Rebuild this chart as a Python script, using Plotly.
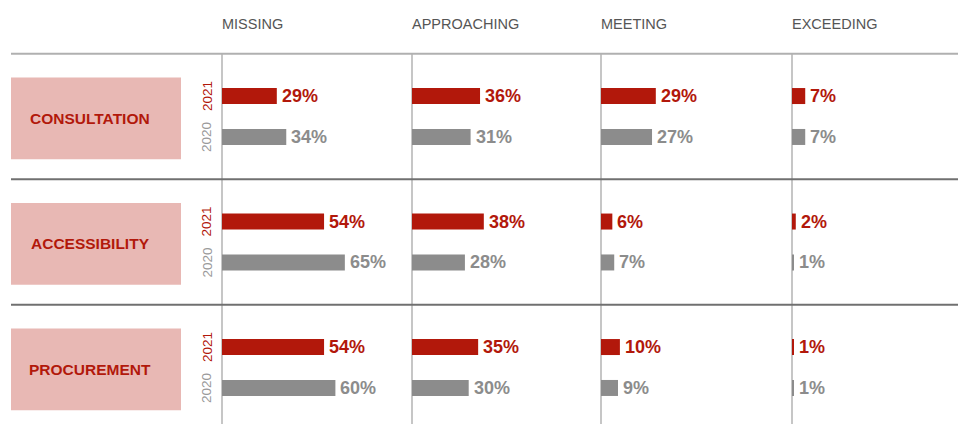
import plotly.graph_objects as go

# ---- data ----
categories = ["CONSULTATION", "ACCESSIBILITY", "PROCUREMENT"]
levels = ["MISSING", "APPROACHING", "MEETING", "EXCEEDING"]
years = ["2021", "2020"]
# values per level, listed in category order
missing_2021 = [29, 54, 54]
missing_2020 = [34, 65, 60]
approaching_2021 = [36, 38, 35]
approaching_2020 = [31, 28, 30]
meeting_2021 = [29, 6, 10]
meeting_2020 = [27, 7, 9]
exceeding_2021 = [7, 2, 1]
exceeding_2020 = [7, 1, 1]

values = {
    "2021": [missing_2021, approaching_2021, meeting_2021, exceeding_2021],
    "2020": [missing_2020, approaching_2020, meeting_2020, exceeding_2020],
}

# ---- styling / layout ----
W, H = 958, 424
RED = "#b2180b"
GRAY = "#8c8c8c"
PINK = "#e8b8b4"
FONT = "Liberation Sans, Arial, sans-serif"
PX_PER_PCT = 1.89
col_edges = [222, 412, 601, 792, 958]
ROW_PX = 125.5
ROW0_PX = 116.5
YEAR_OFF = 0.163
BAR_W = 16 / ROW_PX

y_top = -ROW0_PX / ROW_PX
y_bot = (H - ROW0_PX) / ROW_PX

fig = go.Figure()
layout_axes = {}
annotations = []
shapes = []

rows = list(range(len(categories)))
for ci, level in enumerate(levels):
    ax_name = "x" if ci == 0 else f"x{ci+1}"
    key = "xaxis" if ci == 0 else f"xaxis{ci+1}"
    x0px, x1px = col_edges[ci], col_edges[ci + 1]
    layout_axes[key] = dict(
        domain=[x0px / W, x1px / W],
        range=[0, (x1px - x0px) / PX_PER_PCT],
        visible=False, showgrid=False, zeroline=False, anchor="y",
        fixedrange=True,
    )
    for yi, yr in enumerate(years):
        off = -YEAR_OFF if yi == 0 else YEAR_OFF
        ys = [r + off for r in rows]
        vals = values[yr][ci]
        color = RED if yr == "2021" else GRAY
        fig.add_trace(go.Bar(
            x=vals, y=ys, orientation="h", width=BAR_W,
            marker=dict(color=color, line=dict(width=0)),
            xaxis=ax_name, yaxis="y", showlegend=False, hoverinfo="skip",
        ))
        for v, yv in zip(vals, ys):
            annotations.append(dict(
                x=v, y=yv, xref=ax_name, yref="y", text=f"<b>{v}%</b>",
                showarrow=False, xanchor="left", yanchor="middle", xshift=3,
                font=dict(family=FONT, size=18, color=color),
            ))
    # column header
    annotations.append(dict(
        x=0, y=1 - 24 / H, xref=f"{ax_name} domain", yref="paper", text=level,
        showarrow=False, xanchor="left", yanchor="middle", xshift=-2,
        font=dict(family=FONT, size=14.5, color="#555555"),
    ))
    # vertical column line
    shapes.append(dict(
        type="line", xref=f"{ax_name} domain", yref="y", x0=0, x1=0,
        y0=-0.5, y1=y_bot, line=dict(color="#b3b3b3", width=1.5), layer="below",
    ))

# row decorations
for r, cat in enumerate(categories):
    shapes.append(dict(
        type="rect", xref="paper", yref="y", x0=11 / W, x1=181 / W,
        y0=r - 0.31, y1=r + 0.34, fillcolor=PINK, line=dict(width=0), layer="below",
    ))
    annotations.append(dict(
        x=90 / W, y=r + 0.012, xref="paper", yref="y", text=f"<b>{cat}</b>",
        showarrow=False, xanchor="center", yanchor="middle",
        font=dict(family=FONT, size=15.5, color=RED),
    ))
    for yi, yr in enumerate(years):
        off = -YEAR_OFF if yi == 0 else YEAR_OFF
        annotations.append(dict(
            x=207 / W, y=r + off, xref="paper", yref="y", text=yr, textangle=-90,
            showarrow=False, xanchor="center", yanchor="middle",
            font=dict(family=FONT, size=13.5, color=RED if yr == "2021" else "#9a9a9a"),
        ))

# horizontal rules
shapes.append(dict(type="line", xref="paper", yref="y", x0=11 / W, x1=1,
                   y0=-0.5, y1=-0.5, line=dict(color="#b0b0b0", width=2)))
for r in rows[:-1]:
    shapes.append(dict(type="line", xref="paper", yref="y", x0=11 / W, x1=1,
                       y0=r + 0.5, y1=r + 0.5, line=dict(color="#707070", width=2)))

fig.update_layout(
    width=W, height=H, margin=dict(l=0, r=0, t=0, b=0),
    paper_bgcolor="white", plot_bgcolor="white",
    barmode="overlay",
    yaxis=dict(range=[y_bot, y_top], domain=[0, 1], visible=False,
               showgrid=False, zeroline=False, fixedrange=True),
    annotations=annotations, shapes=shapes,
    **layout_axes,
)

fig.write_html("out.html", config={"displayModeBar": False})
